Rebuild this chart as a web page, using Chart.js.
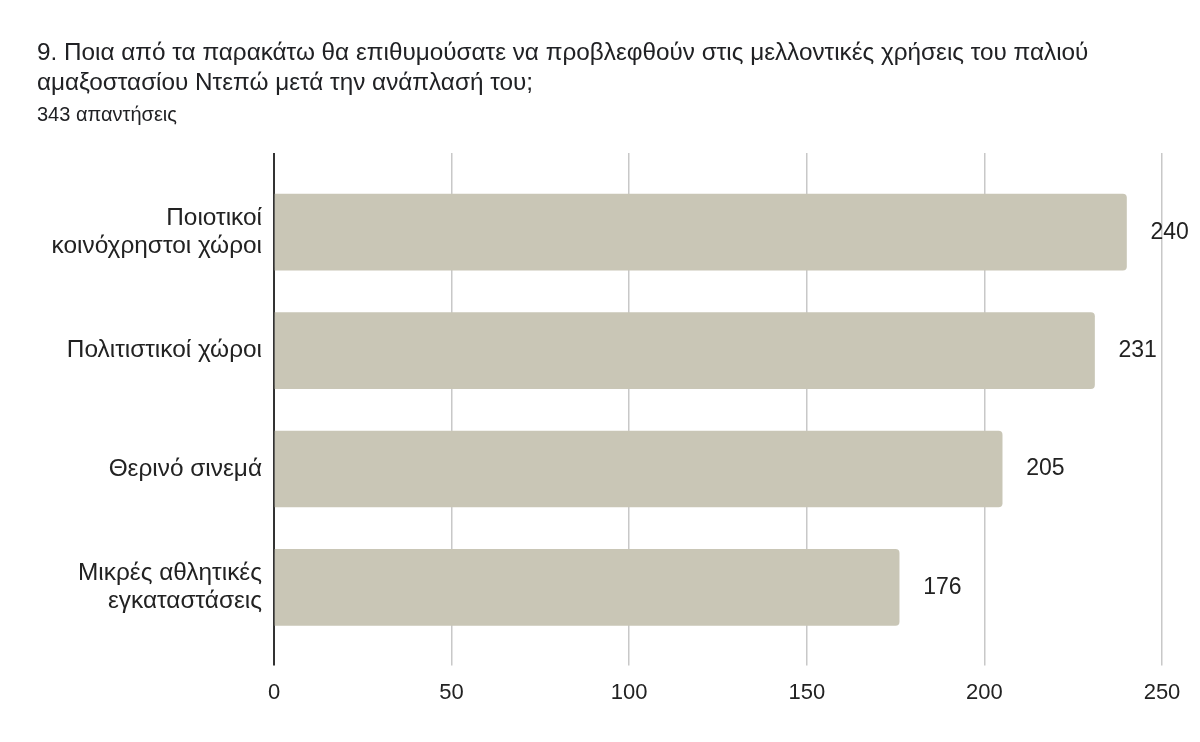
<!DOCTYPE html>
<html>
<head>
<meta charset="utf-8">
<script src="https://cdn.jsdelivr.net/npm/chart.js@4.4.0/dist/chart.umd.min.js"></script>
<style>
  body { margin: 0; background: #fff; font-family: "Liberation Sans", Arial, sans-serif; }
  #wrap { position: relative; width: 1200px; height: 742px; }
  #title { position: absolute; left: 37px; top: 37px; font-size: 24.3px; line-height: 30px; color: #202124; white-space: nowrap; }
  #sub { position: absolute; left: 37px; top: 103px; font-size: 20px; color: #202124; }
  canvas { position: absolute; left: 0; top: 0; }
</style>
</head>
<body>
<div id="wrap">
  <canvas id="chart" width="1200" height="742"></canvas>
  <div id="title">9. Ποια από τα παρακάτω θα επιθυμούσατε να προβλεφθούν στις μελλοντικές χρήσεις του παλιού<br>αμαξοστασίου Ντεπώ μετά την ανάπλασή του;</div>
  <div id="sub">343 απαντήσεις</div>
</div>
<script>
// answers per option
const categories = [
  ['Ποιοτικοί', 'κοινόχρηστοι χώροι'],
  'Πολιτιστικοί χώροι',
  'Θερινό σινεμά',
  ['Μικρές αθλητικές', 'εγκαταστάσεις']
]
const counts = [240, 231, 205, 176]
const xTicks = [0, 50, 100, 150, 200, 250]

const fontFamily = '"Liberation Sans", Arial, sans-serif'
const barColor = '#c9c6b6'
const gridColor = ctx => (ctx.tick && ctx.tick.value === 0) ? '#333333' : '#c8c8c8'
const gridWidth = ctx => (ctx.tick && ctx.tick.value === 0) ? 2 : 1.5

// draws the number right of each bar
const valueLabels = {
  id: 'valueLabels',
  afterDatasetsDraw(chart) {
    const c = chart.ctx
    const meta = chart.getDatasetMeta(0)
    c.save()
    c.font = '23px ' + fontFamily
    c.fillStyle = '#222222'
    c.textAlign = 'left'
    c.textBaseline = 'middle'
    meta.data.forEach((bar, i) => {
      c.fillText(String(counts[i]), bar.x + 24, bar.y)
    })
    c.restore()
  }
}

const config = {
  type: 'bar',
  data: {
    labels: categories,
    datasets: [{
      data: counts,
      backgroundColor: barColor,
      borderRadius: 4,
      barThickness: 76
    }]
  },
  options: {
    indexAxis: 'y',
    responsive: false,
    animation: false,
    layout: { padding: { top: 153, right: 38, bottom: 22, left: 0 } },
    plugins: { legend: { display: false }, tooltip: { enabled: false } },
    scales: {
      x: {
        position: 'bottom',
        min: 0, max: 250,
        afterBuildTicks: s => { s.ticks = xTicks.map(v => ({ value: v })) },
        border: { display: false },
        grid: { color: gridColor, lineWidth: gridWidth, tickLength: 19 },
        ticks: { padding: 14, color: '#222222', font: { size: 22, family: fontFamily, lineHeight: 1.2 } }
      },
      xTop: {
        axis: 'x',
        position: 'top',
        min: 0, max: 250,
        afterBuildTicks: s => { s.ticks = xTicks.map(v => ({ value: v })) },
        border: { display: false },
        grid: { color: gridColor, lineWidth: gridWidth, tickLength: 20, drawOnChartArea: false },
        ticks: { display: false }
      },
      y: {
        border: { display: false },
        grid: { display: false, drawTicks: false },
        afterFit: s => { s.width = 274 },
        ticks: { padding: 12, color: '#222222', font: { size: 24.4, family: fontFamily, lineHeight: 1.125 } }
      }
    }
  },
  plugins: [valueLabels]
}

const myChart = new Chart(document.getElementById('chart'), config)
</script>
</body>
</html>
